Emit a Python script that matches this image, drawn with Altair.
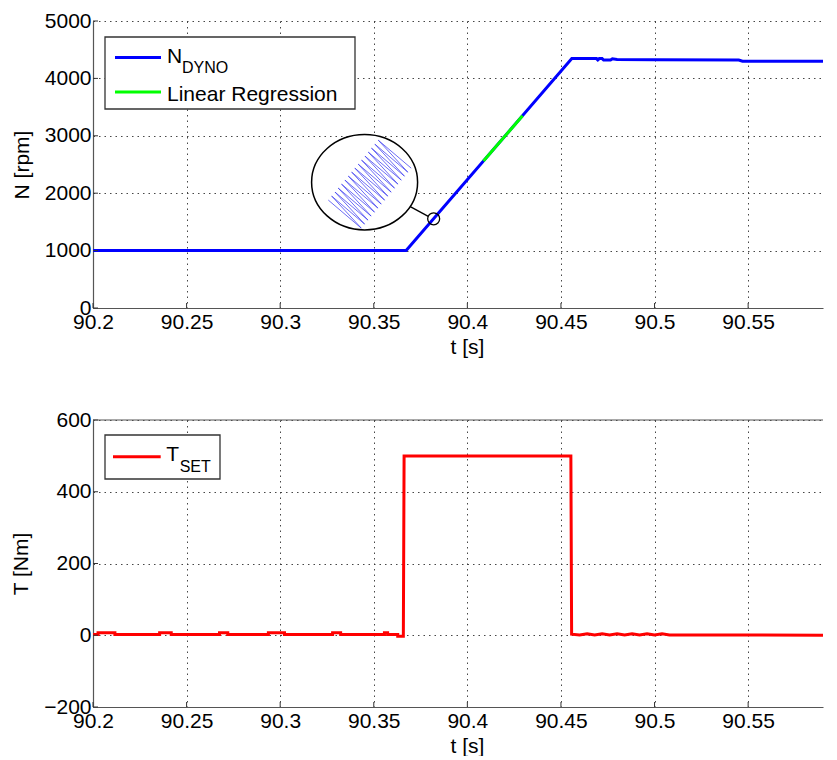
import altair as alt
import pandas as pd

FONT = "Liberation Sans"

# ---------------- data ----------------
# top panel: dyno speed N_DYNO [rpm] vs t [s]
t_dyno = [90.2, 90.3673, 90.4558, 90.469, 90.4697, 90.4705, 90.472, 90.4728,
          90.4765, 90.4775, 90.480, 90.500, 90.545, 90.547, 90.59]
n_dyno = [1000, 1000, 4345, 4345, 4322, 4345, 4345, 4320,
          4320, 4342, 4330, 4325, 4320, 4300, 4298]

# linear regression segment
t_reg = [90.4086, 90.4295]
n_reg = [2560, 3350]

# bottom panel: torque set-point T_SET [Nm]
t_set = [90.2, 90.2027, 90.2027, 90.2117, 90.2117, 90.2356, 90.2356, 90.2418,
         90.2418, 90.2676, 90.2676, 90.272, 90.272, 90.2937, 90.2937, 90.3023,
         90.3023, 90.328, 90.328, 90.3323, 90.3323, 90.3557, 90.3557, 90.3574,
         90.3574, 90.3628, 90.3628, 90.3658, 90.3662, 90.4553, 90.4557,
         90.460, 90.464, 90.468, 90.472, 90.476, 90.480, 90.484, 90.488,
         90.492, 90.496, 90.500, 90.504, 90.508, 90.59]
T_set = [2, 2, 7, 7, 2, 2, 7, 7,
         2, 2, 7, 7, 2, 2, 7, 7,
         2, 2, 7, 7, 2, 2, 7, 7,
         2, 2, -3, -3, 500, 500, 3,
         1, 4, 1, 4, 1, 4, 1, 4,
         1, 4, 1, 4, 1, 0]

x_ticks = [90.2, 90.25, 90.3, 90.35, 90.4, 90.45, 90.5, 90.55]
n_ticks = [0, 1000, 2000, 3000, 4000, 5000]
T_ticks = [-200, 0, 200, 400, 600]

# magnifier inset (drawn in data coordinates of the top panel)
lens_t = [90.3451]
lens_n = [2192]
zig_t = [90.3257, 90.3433, 90.3275, 90.3451, 90.3293, 90.3469, 90.3310, 90.3486,
         90.3328, 90.3504, 90.3346, 90.3522, 90.3364, 90.3540, 90.3382, 90.3558,
         90.3399, 90.3575, 90.3417, 90.3593, 90.3435, 90.3611, 90.3453, 90.3629,
         90.3471, 90.3647, 90.3488, 90.3664, 90.3506, 90.3682, 90.3524, 90.3700]
zig_n = [1880, 1392, 1950, 1462, 2019, 1531, 2089, 1601,
         2158, 1670, 2228, 1740, 2298, 1810, 2367, 1879,
         2437, 1949, 2506, 2018, 2576, 2088, 2646, 2158,
         2715, 2227, 2785, 2297, 2854, 2366, 2924, 2436]
spot_t = [90.3820]
spot_n = [1554]
conn_t = [90.3695]
conn_t2 = [90.3791]
conn_n = [1766]
conn_n2 = [1597]

# ---------------- layout ----------------
W = 730
H = 287
X_DOMAIN = [90.2, 90.59]

df_dyno = pd.DataFrame({"t": t_dyno, "N": n_dyno, "i": range(len(t_dyno))})
df_reg = pd.DataFrame({"t": t_reg, "N": n_reg, "i": range(len(t_reg))})
df_set = pd.DataFrame({"t": t_set, "T": T_set, "i": range(len(t_set))})
df_xt = pd.DataFrame({"t": x_ticks})
df_nt = pd.DataFrame({"N": n_ticks})
df_Tt = pd.DataFrame({"T": T_ticks})
df_lens = pd.DataFrame({"t": lens_t, "N": lens_n})
df_zig = pd.DataFrame({"t": zig_t, "N": zig_n, "i": range(len(zig_t))})
df_spot = pd.DataFrame({"t": spot_t, "N": spot_n})
df_conn = pd.DataFrame({"t": conn_t, "t2": conn_t2, "N": conn_n, "N2": conn_n2})
one = pd.DataFrame({"k": [0]})

xs = alt.Scale(domain=X_DOMAIN, nice=False, zero=False)
x_axis = alt.Axis(values=x_ticks, format="~g", title="t [s]", titleX=374,
                  labelFlush=False, labelPadding=3, titlePadding=4)
X = alt.X("t:Q", scale=xs, axis=x_axis)

Yn = alt.Y("N:Q", scale=alt.Scale(domain=[0, 5000], nice=False, zero=False),
           axis=alt.Axis(values=n_ticks, format="d", title="N [rpm]",
                         labelPadding=2, titlePadding=12))
Yt = alt.Y("T:Q", scale=alt.Scale(domain=[-200, 600], nice=False, zero=False),
           axis=alt.Axis(values=T_ticks, format="d", title="T [Nm]",
                         labelPadding=2, titlePadding=12))

ELLIPSE = "M -1 0 A 1 0.9 0 1 1 1 0 A 1 0.9 0 1 1 -1 0 Z"

def txt(s, x, y, size=21):
    return alt.Chart(one).mark_text(text=s, font=FONT, fontSize=size, align="left",
                                    baseline="alphabetic", color="black").encode(
        x=alt.value(x), y=alt.value(y))

def seg(color, x1, x2, y):
    return alt.Chart(one).mark_rule(color=color, strokeWidth=3).encode(
        x=alt.value(x1), x2=alt.value(x2), y=alt.value(y))

# ---------------- top panel ----------------
dyno = alt.Chart(df_dyno).mark_line(color="#0000ff", strokeWidth=3, clip=True).encode(
    x=X, y=Yn, order="i:Q")
reg = alt.Chart(df_reg).mark_line(color="#00ff00", strokeWidth=3).encode(
    x=X, y=Yn, order="i:Q")
lens = alt.Chart(df_lens).mark_point(shape=ELLIPSE, size=11236, filled=True, fill="white",
                                     stroke="black", strokeWidth=1.5, opacity=1).encode(x=X, y=Yn)
zig = alt.Chart(df_zig).mark_line(color="#3c3cf0", strokeWidth=1, opacity=0.75).encode(
    x=X, y=Yn, order="i:Q")
conn = alt.Chart(df_conn).mark_rule(color="black", strokeWidth=1.3).encode(
    x=X, x2="t2:Q", y=Yn, y2="N2:Q")
spot = alt.Chart(df_spot).mark_point(shape="circle", size=144, filled=False, stroke="black",
                                     strokeWidth=1.3, opacity=1).encode(x=X, y=Yn)
xt_top = alt.Chart(df_xt).mark_rule(color="#333333", strokeWidth=1).encode(
    x=X, y=alt.value(H), y2=alt.value(H - 5))
yt_top = alt.Chart(df_nt).mark_rule(color="#333333", strokeWidth=1).encode(
    y=Yn, x=alt.value(0), x2=alt.value(5))
box_top = alt.Chart(one).mark_rect(fill="white", stroke="#333333", strokeWidth=1.3).encode(
    x=alt.value(12), x2=alt.value(262), y=alt.value(16), y2=alt.value(88))

top = alt.layer(
    dyno, reg, lens, zig, conn, spot, xt_top, yt_top, box_top,
    seg("#0000ff", 22, 68, 36.6), txt("N", 74, 41.5), txt("DYNO", 89, 52, 16),
    seg("#00ff00", 22, 68, 71), txt("Linear Regression", 74, 79.6),
).properties(width=W, height=H)

# ---------------- bottom panel ----------------
tset = alt.Chart(df_set).mark_line(color="#ff0000", strokeWidth=3, clip=True).encode(
    x=X, y=Yt, order="i:Q")
xt_bot = alt.Chart(df_xt).mark_rule(color="#333333", strokeWidth=1).encode(
    x=X, y=alt.value(H), y2=alt.value(H - 5))
yt_bot = alt.Chart(df_Tt).mark_rule(color="#333333", strokeWidth=1).encode(
    y=Yt, x=alt.value(0), x2=alt.value(5))
top_border = alt.Chart(one).mark_rule(color="#555555", strokeWidth=1.2).encode(
    x=alt.value(0), x2=alt.value(W), y=alt.value(0))
box_bot = alt.Chart(one).mark_rect(fill="white", stroke="#333333", strokeWidth=1.3).encode(
    x=alt.value(12), x2=alt.value(127), y=alt.value(15), y2=alt.value(59))

bottom = alt.layer(
    tset, xt_bot, yt_bot, top_border, box_bot,
    seg("#ff0000", 20, 67.7, 36.7), txt("T", 73.3, 41), txt("SET", 86.7, 51.7, 16),
).properties(width=W, height=H)

chart = alt.vconcat(top, bottom, spacing=52).properties(
    padding={"left": 2, "top": 2, "right": 0, "bottom": 0}
).configure_view(stroke=None).configure_axis(
    labelFont=FONT, labelFontSize=21, labelColor="black",
    titleFont=FONT, titleFontSize=21, titleFontWeight="normal", titleColor="black",
    grid=True, gridColor="#333333", gridDash=[1.5, 4], gridWidth=1, gridOpacity=0.9,
    domainColor="#555555", domainWidth=1.2, ticks=False,
)

chart.save("out.html", embed_options={"renderer": "svg", "actions": False})
